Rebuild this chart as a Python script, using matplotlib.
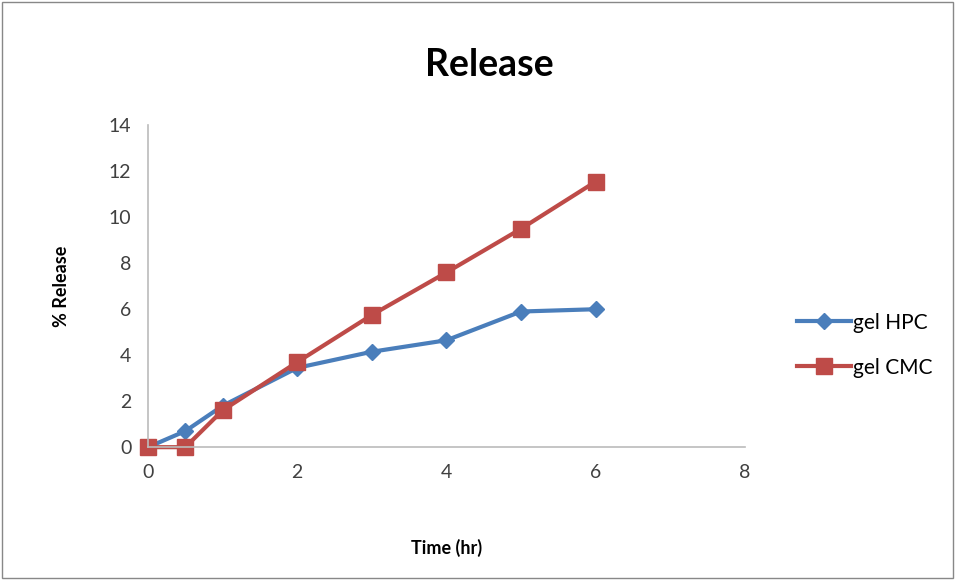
import numpy as np
import matplotlib.pyplot as plt
from matplotlib.patches import Rectangle

plt.rcParams['font.family'] = ['Lato', 'DejaVu Sans']

time_hr = [0, 0.5, 1, 2, 3, 4, 5, 6]
gel_hpc = [0, 0.7, 1.8, 3.45, 4.15, 4.65, 5.9, 6.0]
gel_cmc = [0, 0, 1.6, 3.7, 5.75, 7.6, 9.5, 11.55]

blue = '#4a7ebb'
red = '#be4b48'

fig = plt.figure(figsize=(9.55, 5.8), dpi=100)
ax = fig.add_axes([0.155, 0.229, 0.625, 0.555])

ax.plot(time_hr, gel_hpc, color=blue, lw=3, marker='D', ms=8, label='gel HPC', clip_on=False)
ax.plot(time_hr, gel_cmc, color=red, lw=3, marker='s', ms=12, label='gel CMC', clip_on=False)

ax.set_xlim(0, 8)
ax.set_ylim(0, 14)
ax.set_xticks(np.arange(0, 9, 2))
ax.set_yticks(np.arange(0, 15, 2))
ax.tick_params(length=0, labelsize=14, colors='#404040', pad=12)
for side in ['top', 'right']:
    ax.spines[side].set_visible(False)
for side in ['left', 'bottom']:
    ax.spines[side].set_color('#bbbbbb')
    ax.spines[side].set_linewidth(1.2)

fig.text(0.512, 0.888, 'Release', ha='center', va='center', fontsize=27, fontweight='bold')
ax.set_xlabel('Time (hr)', fontsize=13, fontweight='bold', labelpad=42)
ax.set_ylabel('% Release', fontsize=13, fontweight='bold', labelpad=28)

fig.legend(loc='center left', bbox_to_anchor=(0.815, 0.405), frameon=False,
           fontsize=15, handlelength=2.6, handletextpad=0.1, labelspacing=1.2)

fig.patches.append(Rectangle((0.002, 0.003), 0.996, 0.994, transform=fig.transFigure,
                             fill=False, edgecolor='#888888', lw=1))

fig.savefig('out.png', dpi=100)
